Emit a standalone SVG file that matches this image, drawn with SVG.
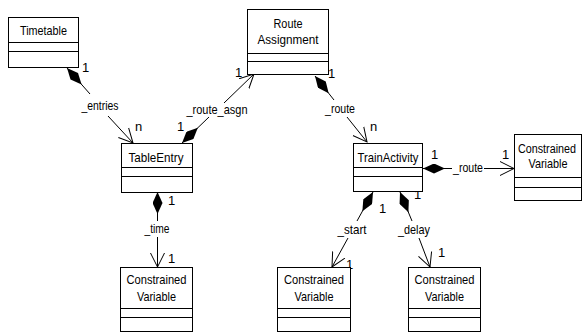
<svg xmlns="http://www.w3.org/2000/svg" width="583" height="333" viewBox="0 0 583 333">
<style>
  .box { fill: #fff; stroke: #000; stroke-width: 1; }
  .div { stroke: #000; stroke-width: 1; }
  text { font-family: "Liberation Sans", Arial, sans-serif; font-size: 13px; fill: #000; }
  .c { text-anchor: middle; }
  .s { font-size: 12px; }
  .conn { fill: none; stroke: #000; stroke-width: 1; marker-start: url(#diamond); marker-end: url(#arrow); }
</style>
<defs>
  <marker id="diamond" viewBox="0 0 22 10" refX="0" refY="5" markerWidth="22" markerHeight="10" markerUnits="userSpaceOnUse" orient="auto">
    <path d="M0,5 L11,0 L22,5 L11,10 Z" fill="#000"/>
  </marker>
  <marker id="arrow" viewBox="0 0 15 16" refX="14" refY="8" markerWidth="15" markerHeight="16" markerUnits="userSpaceOnUse" orient="auto">
    <path d="M0,1 L14,8 L0,15" fill="none" stroke="#000" stroke-width="1"/>
  </marker>
</defs>
<rect width="583" height="333" fill="#fff"/>

<g id="connectors">
  <path class="conn" d="M67,68 L90,94 M108,116 L133,143"/>
  <path class="conn" d="M182,143 L209,117 M224,103 L254,74"/>
  <path class="conn" d="M315,76 L334,100 M347,117 L367,142"/>
  <path class="conn" d="M423,168.5 L452,168.5 M484,168.5 L514,168.5"/>
  <path class="conn" d="M157.5,192 L157.5,221 M157.5,237 L157.5,267"/>
  <path class="conn" d="M373,192 L357,221 M348,238 L332,267"/>
  <path class="conn" d="M400,192 L412,221 M419,238 L430,267"/>
  <text class="c" x="100" y="110" textLength="37" lengthAdjust="spacingAndGlyphs">_entries</text>
  <text class="c" x="217" y="114" textLength="61" lengthAdjust="spacingAndGlyphs">_route_asgn</text>
  <text class="c" x="340" y="113" textLength="30" lengthAdjust="spacingAndGlyphs">_route</text>
  <text class="c" x="468" y="172" textLength="30" lengthAdjust="spacingAndGlyphs">_route</text>
  <text class="c" x="157" y="233" textLength="25" lengthAdjust="spacingAndGlyphs">_time</text>
  <text class="c" x="352" y="234" textLength="29" lengthAdjust="spacingAndGlyphs">_start</text>
  <text class="c" x="414" y="234" textLength="32" lengthAdjust="spacingAndGlyphs">_delay</text>
  <text x="82" y="72">1</text>
  <text x="135" y="131">n</text>
  <text x="177" y="131">1</text>
  <text x="235" y="77">1</text>
  <text x="328" y="78">1</text>
  <text x="370" y="131">n</text>
  <text x="431" y="159">1</text>
  <text x="502" y="159">1</text>
  <text x="168" y="205">1</text>
  <text x="168" y="263">1</text>
  <text x="379" y="213">1</text>
  <text x="346" y="269">1</text>
  <text x="414" y="199">1</text>
  <text x="438" y="257">1</text>
</g>

<g id="timetable">
  <rect class="box" x="8.5" y="17.5" width="70" height="50"/>
  <line class="div" x1="8.5" y1="42.5" x2="78.5" y2="42.5"/>
  <line class="div" x1="8.5" y1="51.5" x2="78.5" y2="51.5"/>
  <text class="c" x="43.5" y="35" textLength="47" lengthAdjust="spacingAndGlyphs">Timetable</text>
</g>
<g id="tableentry">
  <rect class="box" x="121.5" y="143.5" width="71" height="49"/>
  <line class="div" x1="121.5" y1="167.5" x2="192.5" y2="167.5"/>
  <line class="div" x1="121.5" y1="176.5" x2="192.5" y2="176.5"/>
  <text class="c" x="156" y="162" textLength="55" lengthAdjust="spacingAndGlyphs">TableEntry</text>
</g>
<g id="routeassignment">
  <rect class="box" x="247.5" y="9.5" width="81" height="65"/>
  <line class="div" x1="247.5" y1="53.5" x2="328.5" y2="53.5"/>
  <line class="div" x1="247.5" y1="61.5" x2="328.5" y2="61.5"/>
  <text class="c" x="288" y="28" textLength="29" lengthAdjust="spacingAndGlyphs">Route</text>
  <text class="c" x="288" y="44" textLength="61" lengthAdjust="spacingAndGlyphs">Assignment</text>
</g>
<g id="trainactivity">
  <rect class="box" x="353.5" y="143.5" width="69" height="48"/>
  <line class="div" x1="353.5" y1="167.5" x2="422.5" y2="167.5"/>
  <line class="div" x1="353.5" y1="176.5" x2="422.5" y2="176.5"/>
  <text class="c" x="388" y="162" textLength="61" lengthAdjust="spacingAndGlyphs">TrainActivity</text>
</g>
<g id="cv-route">
  <rect class="box" x="514.5" y="134.5" width="67" height="66"/>
  <line class="div" x1="514.5" y1="177.5" x2="581.5" y2="177.5"/>
  <line class="div" x1="514.5" y1="187.5" x2="581.5" y2="187.5"/>
  <text class="c s" x="547" y="153" textLength="58" lengthAdjust="spacingAndGlyphs">Constrained</text>
  <text class="c" x="548" y="168" textLength="39" lengthAdjust="spacingAndGlyphs">Variable</text>
</g>
<g id="cv-time">
  <rect class="box" x="120.5" y="267.5" width="72" height="64"/>
  <line class="div" x1="120.5" y1="308.5" x2="192.5" y2="308.5"/>
  <line class="div" x1="120.5" y1="317.5" x2="192.5" y2="317.5"/>
  <text class="c" x="156.5" y="284" textLength="60" lengthAdjust="spacingAndGlyphs">Constrained</text>
  <text class="c" x="156.5" y="301" textLength="39" lengthAdjust="spacingAndGlyphs">Variable</text>
</g>
<g id="cv-start">
  <rect class="box" x="277.5" y="267.5" width="73" height="64"/>
  <line class="div" x1="277.5" y1="308.5" x2="350.5" y2="308.5"/>
  <line class="div" x1="277.5" y1="317.5" x2="350.5" y2="317.5"/>
  <text class="c" x="314" y="284" textLength="60" lengthAdjust="spacingAndGlyphs">Constrained</text>
  <text class="c" x="314" y="301" textLength="39" lengthAdjust="spacingAndGlyphs">Variable</text>
</g>
<g id="cv-delay">
  <rect class="box" x="408.5" y="267.5" width="72" height="64"/>
  <line class="div" x1="408.5" y1="308.5" x2="480.5" y2="308.5"/>
  <line class="div" x1="408.5" y1="317.5" x2="480.5" y2="317.5"/>
  <text class="c" x="444.5" y="284" textLength="60" lengthAdjust="spacingAndGlyphs">Constrained</text>
  <text class="c" x="444.5" y="301" textLength="39" lengthAdjust="spacingAndGlyphs">Variable</text>
</g>
</svg>
